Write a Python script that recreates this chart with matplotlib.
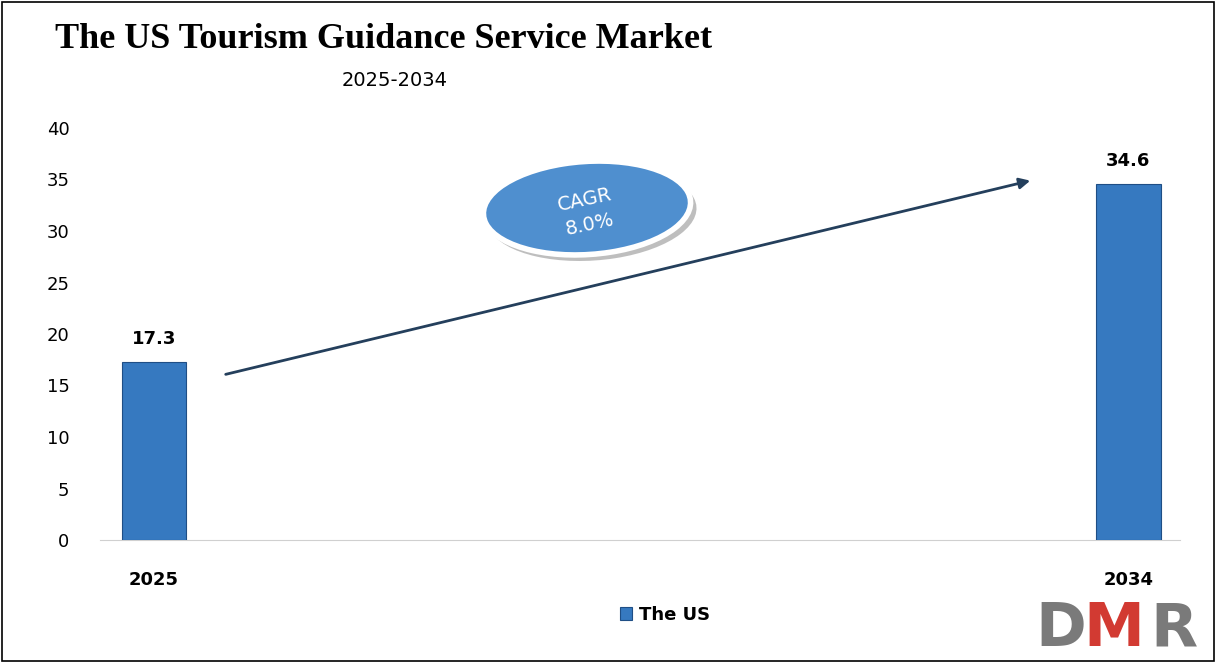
import matplotlib.pyplot as plt
from matplotlib.patches import Ellipse, Rectangle

years = ["2025", "2034"]
values = [17.3, 34.6]
cagr_label = "CAGR\n8.0%"

W, H = 1216, 663
fig = plt.figure(figsize=(W / 100, H / 100), dpi=100)
fig.patches.append(Rectangle((0.002, 0.003), 0.996, 0.994, transform=fig.transFigure,
                             fill=False, edgecolor="black", linewidth=1.2))

ax = fig.add_axes([100 / W, 1 - 540 / H, 1080 / W, 412 / H])
x = list(range(len(years)))
ax.bar(x, values, width=0.066, color="#3679c0", edgecolor="#1f4e85", linewidth=0.8,
       label="The US", zorder=3)
for xi, v in zip(x, values):
    ax.text(xi, v + 1.3, f"{v}", ha="center", va="bottom", fontsize=13, fontweight="bold")

ax.set_xlim(-0.0554, 1.053)
ax.set_ylim(0, 40)
ax.set_yticks(range(0, 41, 5))
ax.set_xticks(x)
ax.set_xticklabels(years, fontsize=13, fontweight="bold")
ax.tick_params(axis="y", labelsize=13, length=0, pad=22)
ax.tick_params(axis="x", length=0, pad=22)
for s in ["top", "right", "left"]:
    ax.spines[s].set_visible(False)
ax.spines["bottom"].set_color("#d0d0d0")

# growth arrow
ax.annotate("", xy=(1033 / W, 1 - 180 / H), xytext=(223 / W, 1 - 375 / H),
            xycoords="figure fraction", textcoords="figure fraction",
            arrowprops=dict(arrowstyle="-|>", color="#243f5c", lw=2, mutation_scale=16))

# CAGR ellipse (tilted, with shadow below)
shadow = Ellipse((592 / W, 1 - 214 / H), 212 / W, 92 / H, angle=16,
                 transform=fig.transFigure, facecolor="#8a8a8a", edgecolor="none", alpha=0.55)
ell = Ellipse((587 / W, 1 - 208 / H), 210 / W, 92 / H, angle=16,
              transform=fig.transFigure, facecolor="#4f8fcf", edgecolor="white", linewidth=4)
fig.patches.extend([shadow, ell])
fig.text(587 / W, 1 - 212 / H, cagr_label, ha="center", va="center", color="white",
         fontsize=14, rotation=12, linespacing=1.4)

fig.text(55 / W, 1 - 40 / H, "The US Tourism Guidance Service Market", fontsize=26,
         fontweight="bold", family="Liberation Serif", va="center")
fig.text(395 / W, 1 - 80 / H, "2025-2034", fontsize=14, ha="center", va="center")

fig.legend(loc="center", bbox_to_anchor=(665 / W, 1 - 615 / H), frameon=False,
           prop=dict(size=13, weight="bold"), handlelength=0.7, handleheight=0.7,
           handletextpad=0.4)

# logo
fig.text(1035 / W, 1 - 630 / H, "D", fontsize=44, fontweight="bold", color="#7a7a7a", va="center")
fig.text(1083 / W, 1 - 630 / H, "M", fontsize=44, fontweight="bold", color="#d23a32", va="center")
fig.text(1150 / W, 1 - 630 / H, "R", fontsize=44, fontweight="bold", color="#7a7a7a", va="center")

fig.savefig("out.png", dpi=100)
